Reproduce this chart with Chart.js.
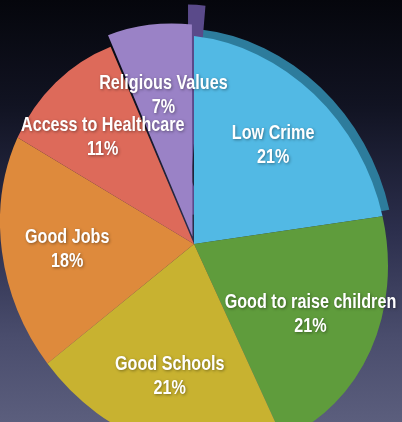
<!DOCTYPE html>
<html>
<head>
<meta charset="utf-8">
<script src="https://cdn.jsdelivr.net/npm/chart.js@4/dist/chart.umd.min.js"></script>
<style>
  html, body { margin: 0; padding: 0; }
  body {
    width: 402px; height: 422px; overflow: hidden;
    background: linear-gradient(180deg, #05060c 0%, #111322 25%, #2c2f4d 55%, #4a4d6d 80%, #5b5e7d 100%);
  }
  #wrap { position: relative; width: 402px; height: 422px; }
</style>
</head>
<body>
<div id="wrap"><canvas id="myChart" width="402" height="422"></canvas></div>
<script>
// reasons for choosing where to live, share in %
const categories = ['Low Crime', 'Good to raise children', 'Good Schools', 'Good Jobs', 'Access to Healthcare', 'Religious Values'];
const shares = [21, 21, 21, 18, 11, 7];
const sliceColors = ['#52b9e4', '#5f9c3c', '#c8b230', '#de8a3c', '#dd6a5a', '#9a82c6'];
const rimColors = ['#2d7c9c', null, null, null, null, '#5a4a8a'];
const explode = [0, 0, 0, 0, 0, 28];
const rimShift = [[7, -7], null, null, null, null, [18, -3]];

// tilt of the pie (it's drawn a bit in perspective in the original)
const tilt = { sx: 0.97, shear: 0.11, sy: 1.04 };

function tiltPoint(cx, cy, x, y) {
  const dx = x - cx, dy = y - cy;
  return [cx + tilt.sx * dx, cy + tilt.shear * dx + tilt.sy * dy];
}

const tiltPlugin = {
  id: 'tiltAndLabels',
  beforeDatasetsDraw(chart) {
    const ctx = chart.ctx;
    const arcs = chart.getDatasetMeta(0).data;
    const c = arcs[0].getProps(['x', 'y']);
    ctx.save();
    ctx.translate(c.x, c.y);
    ctx.transform(tilt.sx, tilt.shear, 0, tilt.sy, 0, 0);
    ctx.translate(-c.x, -c.y);
    // fake 3d edge behind a couple of slices
    arcs.forEach((arc, i) => {
      if (!rimColors[i]) return;
      const p = arc.getProps(['x', 'y', 'startAngle', 'endAngle', 'outerRadius']);
      const mid = (p.startAngle + p.endAngle) / 2;
      const ox = p.x + Math.cos(mid) * explode[i];
      const oy = p.y + Math.sin(mid) * explode[i];
      const cx = ox + rimShift[i][0];
      const cy = oy + rimShift[i][1];
      ctx.save();
      if (explode[i]) {
        // only the side face to the right of the lifted slice
        ctx.beginPath();
        ctx.rect(ox, -1000, 2000, 3000);
        ctx.clip();
      }
      ctx.fillStyle = rimColors[i];
      ctx.beginPath();
      ctx.moveTo(cx, cy);
      ctx.arc(cx, cy, p.outerRadius, p.startAngle, p.endAngle);
      ctx.lineTo(ox, oy);
      ctx.closePath();
      ctx.fill();
      ctx.restore();
    });
  },
  afterDatasetsDraw(chart) {
    const ctx = chart.ctx;
    ctx.restore();
    const arcs = chart.getDatasetMeta(0).data;
    arcs.forEach((arc, i) => {
      const p = arc.getProps(['x', 'y', 'startAngle', 'endAngle', 'outerRadius']);
      const mid = (p.startAngle + p.endAngle) / 2;
      const d = p.outerRadius * 0.66 + explode[i] * 0.4;
      const pt = tiltPoint(p.x, p.y, p.x + Math.cos(mid) * d, p.y + Math.sin(mid) * d);
      ctx.save();
      ctx.translate(pt[0], pt[1]);
      ctx.scale(0.77, 1);   // condensed look
      ctx.font = 'bold 21px "Liberation Sans", Arial, sans-serif';
      ctx.fillStyle = '#ffffff';
      ctx.textAlign = 'center';
      ctx.textBaseline = 'middle';
      ctx.shadowColor = 'rgba(0,0,0,0.4)';
      ctx.shadowBlur = 3;
      ctx.shadowOffsetX = 1;
      ctx.shadowOffsetY = 1;
      ctx.fillText(categories[i], 0, -12);
      ctx.fillText(shares[i] + '%', 0, 12);
      ctx.restore();
    });
  }
};

new Chart(document.getElementById('myChart'), {
  type: 'pie',
  data: {
    labels: categories,
    datasets: [{
      data: shares,
      backgroundColor: sliceColors,
      borderWidth: 0,
      offset: explode,
      clip: false
    }]
  },
  options: {
    responsive: false,
    animation: false,
    radius: 200,
    layout: { padding: { left: 0, right: 14, top: 66, bottom: 0 } },
    plugins: {
      legend: { display: false },
      tooltip: { enabled: false }
    }
  },
  plugins: [tiltPlugin]
});
</script>
</body>
</html>
